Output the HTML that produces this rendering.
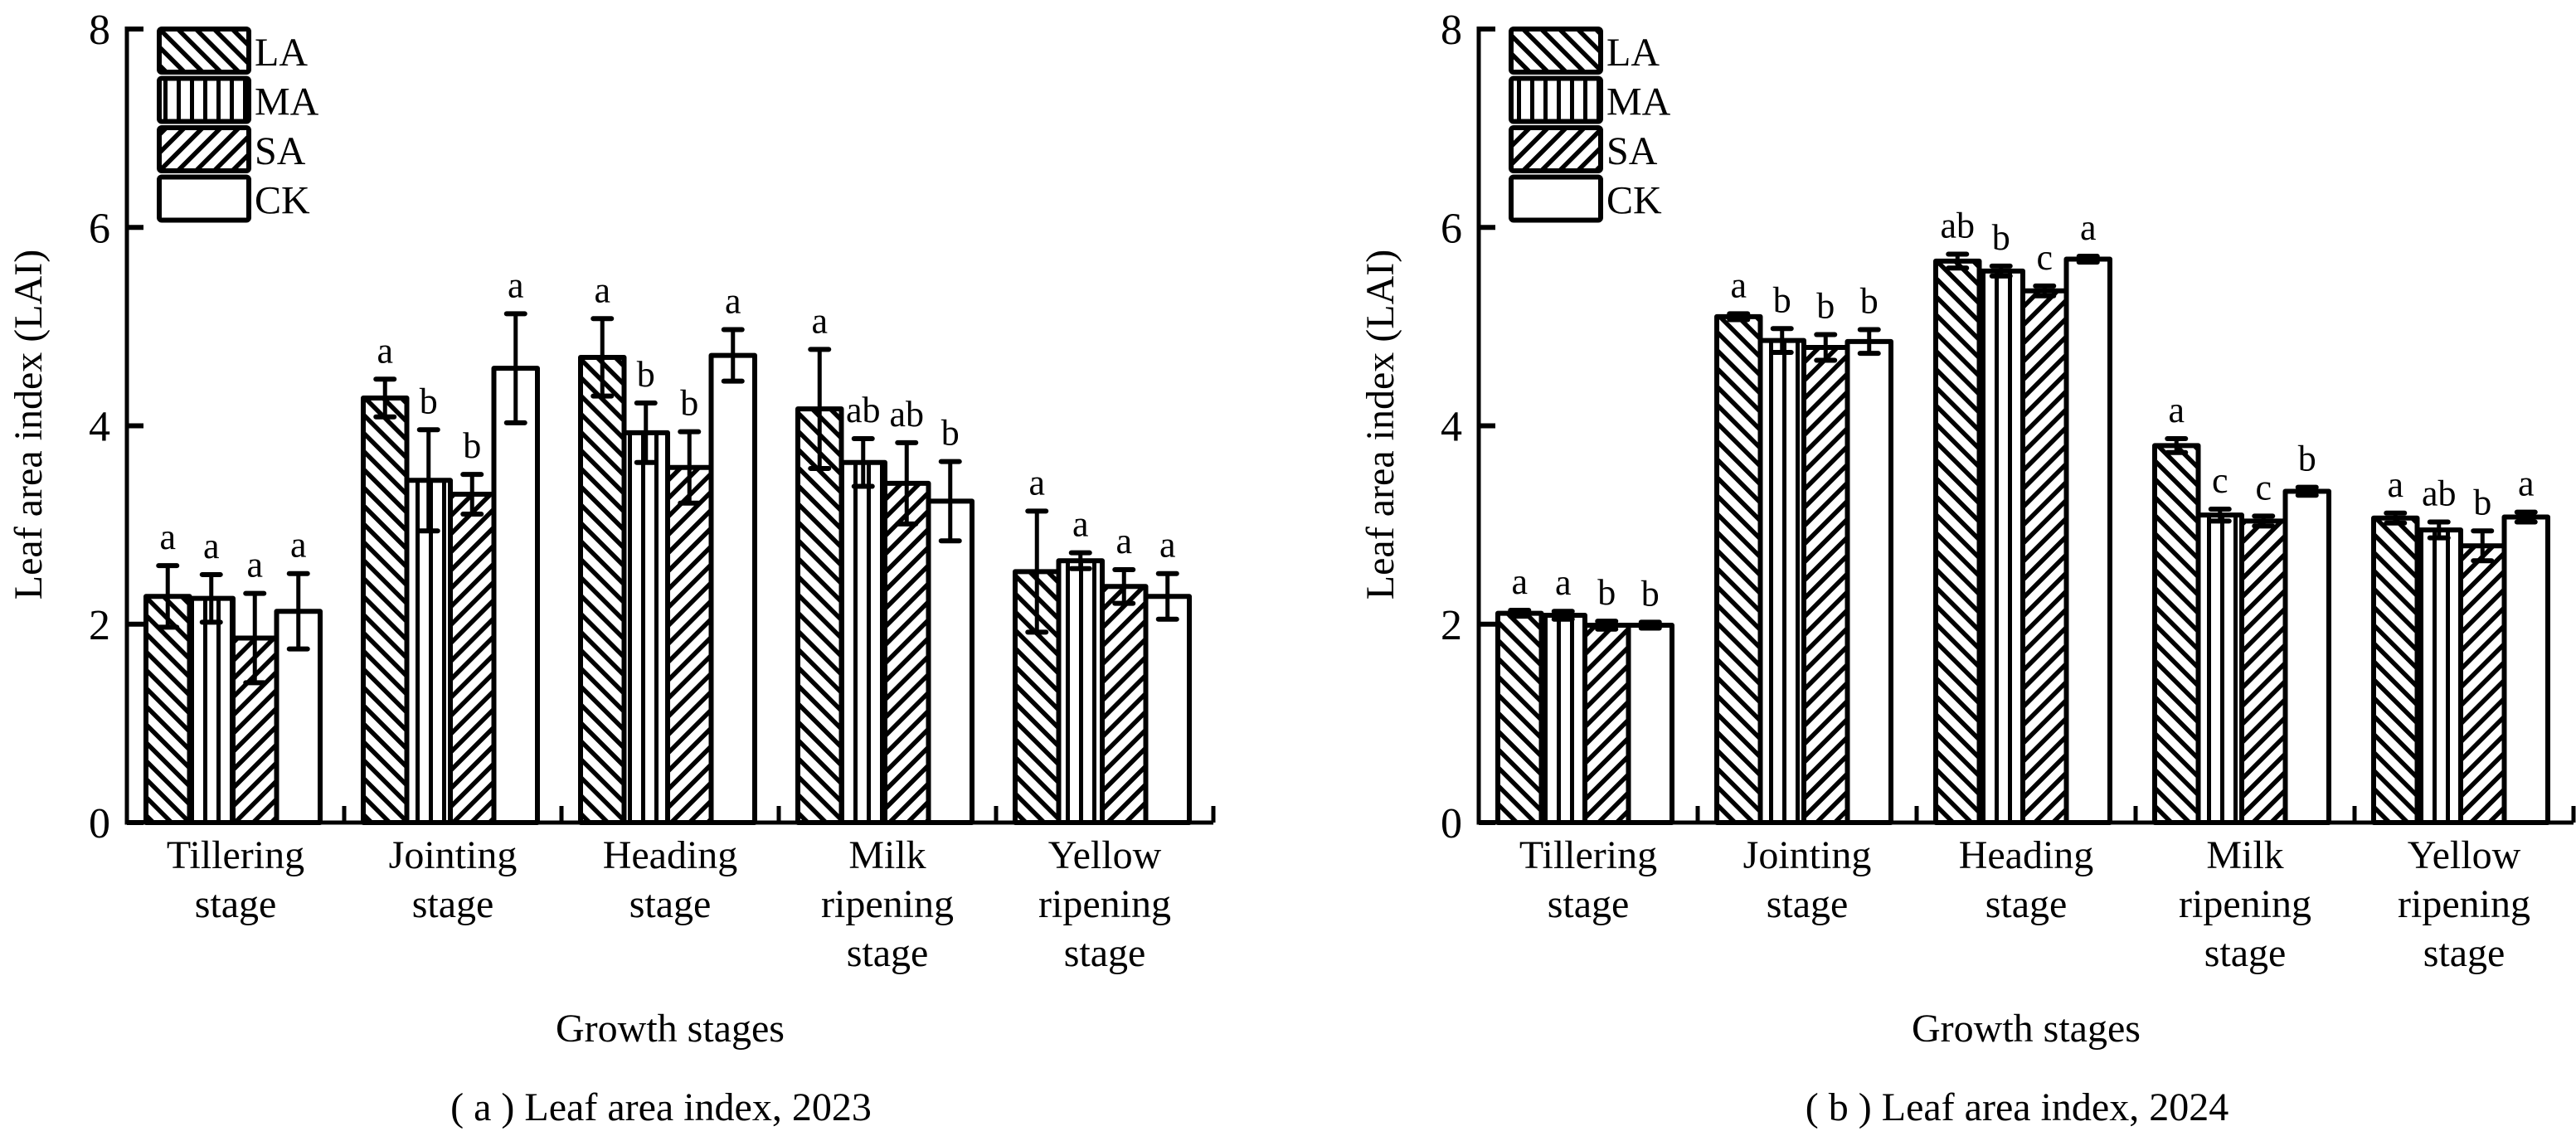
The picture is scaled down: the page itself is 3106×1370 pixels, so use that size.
<!DOCTYPE html>
<html><head><meta charset="utf-8"><style>
html,body{margin:0;padding:0;background:#fff;}
svg{display:block;font-family:"Liberation Serif",serif;}
</style></head><body>
<svg id="fig" width="3106" height="1370" viewBox="0 0 3106 1370" xmlns="http://www.w3.org/2000/svg">
<defs>
<pattern id="pLA" patternUnits="userSpaceOnUse" width="15.5" height="20" patternTransform="rotate(-45)"><rect x="0" y="0" width="5.5" height="20" fill="#000"/></pattern>
<pattern id="pSA" patternUnits="userSpaceOnUse" width="15.5" height="20" patternTransform="rotate(45)"><rect x="0" y="0" width="5.5" height="20" fill="#000"/></pattern>
<pattern id="pMA" patternUnits="userSpaceOnUse" width="16" height="20"><rect x="5" y="0" width="5" height="20" fill="#000"/></pattern>
</defs>
</svg>
<script>
const categories=[["Tillering","stage"],["Jointing","stage"],["Heading","stage"],["Milk","ripening","stage"],["Yellow","ripening","stage"]];
const seriesNames=["LA","MA","SA","CK"];
const yTicks=[0,2,4,6,8];
// 2023
const la23=[2.28,4.28,4.69,4.17,2.53];
const ma23=[2.26,3.45,3.93,3.63,2.64];
const sa23=[1.86,3.31,3.58,3.42,2.38];
const ck23=[2.13,4.58,4.71,3.24,2.28];
const laErr23=[0.31,0.19,0.39,0.6,0.61];
const maErr23=[0.24,0.51,0.3,0.24,0.08];
const saErr23=[0.45,0.2,0.36,0.41,0.17];
const ckErr23=[0.38,0.55,0.26,0.4,0.23];
const letters23=[["a","a","a","a"],["a","b","b","a"],["a","b","b","a"],["a","ab","ab","b"],["a","a","a","a"]];
// 2024
const la24=[2.11,5.10,5.66,3.80,3.07];
const ma24=[2.09,4.86,5.56,3.10,2.95];
const sa24=[1.99,4.79,5.36,3.04,2.79];
const ck24=[1.99,4.85,5.68,3.34,3.08];
const laErr24=[0.03,0.03,0.07,0.07,0.05];
const maErr24=[0.04,0.12,0.05,0.06,0.08];
const saErr24=[0.04,0.13,0.05,0.05,0.15];
const ckErr24=[0.03,0.12,0.03,0.04,0.05];
const letters24=[["a","a","b","b"],["a","b","b","b"],["ab","b","c","a"],["a","c","c","b"],["a","ab","b","a"]];

const NS="http://www.w3.org/2000/svg";
const svg=document.getElementById('fig');
function mk(tag,attrs,parent,text){const e=document.createElementNS(NS,tag);for(const k in attrs)e.setAttribute(k,attrs[k]);if(text!==undefined)e.textContent=text;(parent||svg).appendChild(e);return e;}
const fills=["url(#pLA)","url(#pMA)","url(#pSA)","#fff"];

function panel(id,x0,x1,vals,errs,letters,caption){
  const y0=992,y8=35;
  const yS=v=>y0-(v/8)*(y0-y8);
  const catW=(x1-x0)/categories.length;
  const bw=52.5, off=23;
  const g=mk('g',{});
  
  
  // bars
  categories.forEach((c,i)=>{
    for(let s=0;s<4;s++){
      const bx=x0+i*catW+off+s*bw, v=vals[s][i], e=errs[s][i];
      const top=yS(v);
      const r=mk('rect',{x:bx,y:top,width:bw,height:y0-top,fill:fills[s],stroke:'#000','stroke-width':6,'stroke-linejoin':'round'},g);
      
      
      const cx=bx+bw/2, et=yS(v+e), eb=yS(v-e);
      const eg=mk('g',{stroke:'#000','stroke-linecap':'round'},g);
      
      
      mk('line',{x1:cx,y1:et,x2:cx,y2:eb,'stroke-width':5},eg);
      mk('line',{x1:cx-11,y1:et,x2:cx+11,y2:et,'stroke-width':6},eg);
      mk('line',{x1:cx-11,y1:eb,x2:cx+11,y2:eb,'stroke-width':6},eg);
      const t=mk('text',{x:cx,y:et-20,'text-anchor':'middle','font-size':44},g,letters[i][s]);
      
      
    }
    const lines=c;
    lines.forEach((ln,k)=>{
      const t=mk('text',{x:x0+i*catW+catW/2,y:1047+k*59,'text-anchor':'middle','font-size':48},g,ln);
      
      
    });
  });
  // axes
  const ax=mk('path',{d:`M${x0} ${y8-3} V${y0} H${x1}`,fill:'none',stroke:'#000','stroke-width':5},g);
  
  
  yTicks.forEach(v=>{
    mk('line',{x1:x0,y1:yS(v),x2:x0+20,y2:yS(v),stroke:'#000','stroke-width':6},g);
    const t=mk('text',{x:x0-20,y:yS(v)+18,'text-anchor':'end','font-size':52},g,String(v));
    
    
  });
  for(let i=1;i<=categories.length;i++){
    mk('line',{x1:x0+i*catW,y1:y0,x2:x0+i*catW,y2:y0-20,stroke:'#000','stroke-width':5},g);
  }
  const yt=mk('text',{x:0,y:0,'text-anchor':'middle','font-size':48,transform:`translate(${x0-103},512) rotate(-90)`},g,'Leaf area index (LAI)');
  
  
  const xt=mk('text',{x:(x0+x1)/2,y:1256,'text-anchor':'middle','font-size':48},g,'Growth stages');
  
  
  const cp=mk('text',{x:(x0+x1)/2-11,y:1351,'text-anchor':'middle','font-size':48},g,caption);
  
  
  // legend
  const lx=x0+39;
  seriesNames.forEach((n,s)=>{
    const ly=35+s*59.5;
    const lr=mk('rect',{x:lx,y:ly,width:108,height:52,rx:3,fill:fills[s],stroke:'#000','stroke-width':6},g);
    
    
    const lt=mk('text',{x:lx+115,y:ly+44,'font-size':48},g,n);
    
    
  });
}
panel('lai-2023',153,1463,[la23,ma23,sa23,ck23],[laErr23,maErr23,saErr23,ckErr23],letters23,'( a ) Leaf area index, 2023');
panel('lai-2024',1783,3103,[la24,ma24,sa24,ck24],[laErr24,maErr24,saErr24,ckErr24],letters24,'( b ) Leaf area index, 2024');
</script>
</body></html>
